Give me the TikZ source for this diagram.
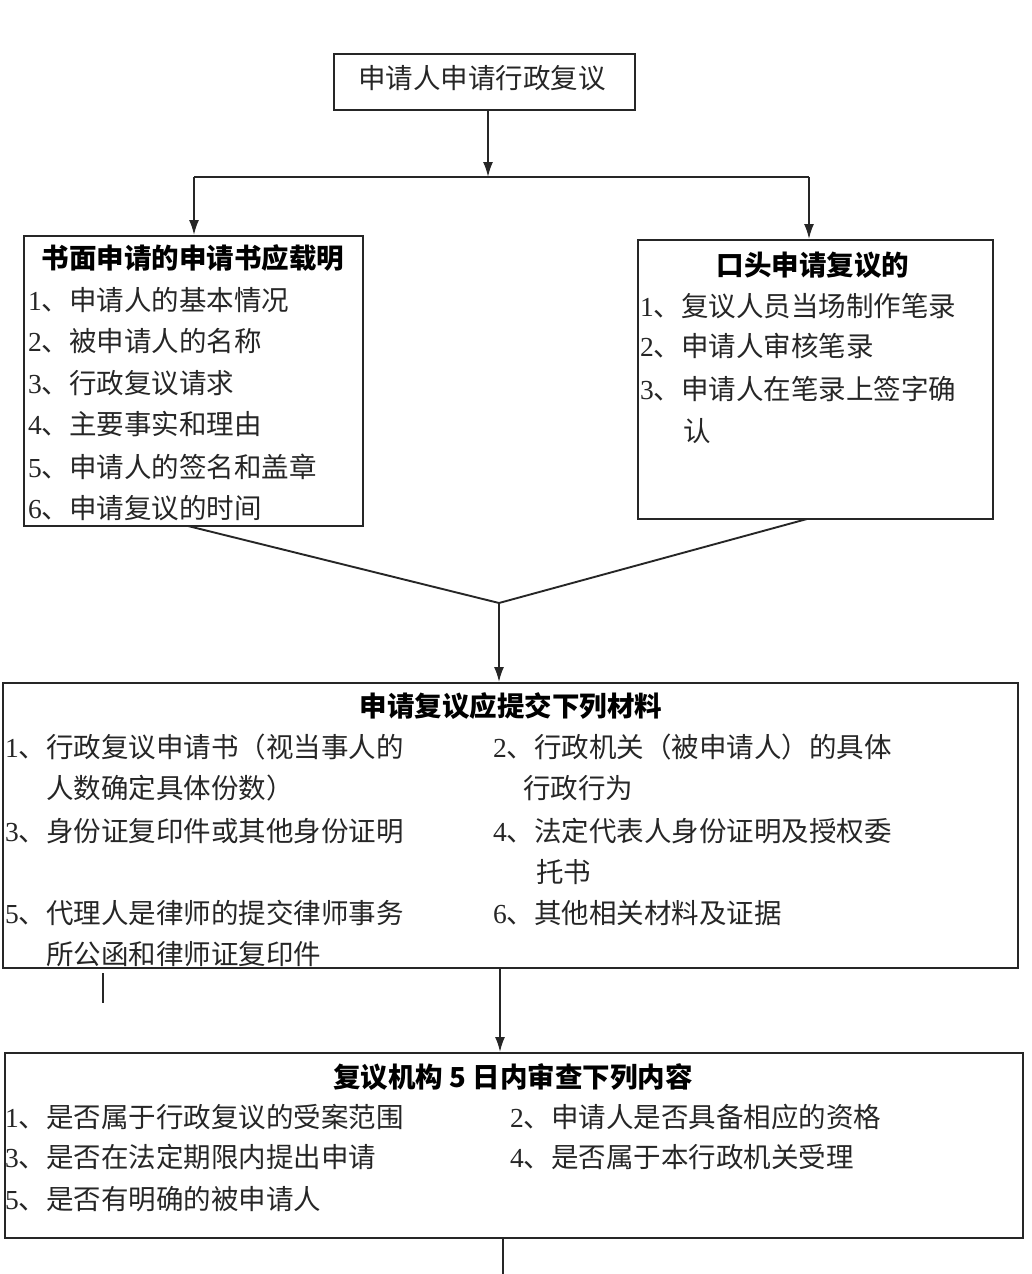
\documentclass[tikz,border=0pt]{standalone}
\usepackage{fontspec}
\setmainfont{Noto Sans CJK SC}
\newfontfamily\tnr{Liberation Serif}
\usetikzlibrary{arrows.meta}
\newcommand\nm[1]{{\tnr #1}、}
\tikzset{
  box/.style={draw=black!85, line width=1.9pt, fill=white, inner sep=0pt},
  txt/.style={anchor=base west, inner sep=0pt, font=\fontsize{27.5}{30}\selectfont, text=black!85},
  ttl/.style={anchor=base, inner sep=0pt, font=\fontsize{27.5}{30}\selectfont\bfseries, text=black},
  ln/.style={draw=black!85, line width=1.9pt},
  arr/.style={ln, -{Latex[length=15pt,width=10pt]}}
}
\begin{document}
\begin{tikzpicture}[x=1pt,y=-1pt]
\useasboundingbox[fill=white] (0,0) rectangle (1032,1274);
% boxes
\node[box, minimum width=301pt, minimum height=56pt] (top) at (484.5,82) {};
\node[box, minimum width=339pt, minimum height=290pt] (lbox) at (193.5,381) {};
\node[box, minimum width=355pt, minimum height=279pt] (rbox) at (815.5,379.5) {};
\node[box, minimum width=1015pt, minimum height=285pt] (mbox) at (510.5,825.5) {};
\node[box, minimum width=1018pt, minimum height=185pt] (bbox) at (514,1145.5) {};
% coordinates
\coordinate (split) at (488,177);
\coordinate (lsplit) at (194,177);
\coordinate (rsplit) at (809,177);
\coordinate (lfoot) at (188,526);
\coordinate (rfoot) at (807,519);
\coordinate (meet) at (499,603);
\coordinate (m2) at (500,968);
\coordinate (stubA) at (103,973);
\coordinate (stubB) at (103,1003);
\coordinate (endpt) at (503,1274);
% connectors
\draw[arr] (top.south -| split) -- (split);
\draw[ln] (lsplit) -- (rsplit);
\draw[arr] (lsplit) -- (lbox.north -| lsplit);
\draw[arr] (rsplit) -- (rbox.north -| rsplit);
\draw[ln] (lfoot) -- (meet) -- (rfoot);
\draw[arr] (meet) -- (mbox.north -| meet);
\draw[arr] (m2) -- (bbox.north -| m2);
\draw[ln] (stubA) -- (stubB);
\draw[ln] (bbox.south -| endpt) -- (endpt);
% top text
\node[anchor=base, inner sep=0pt, font=\fontsize{27.5}{30}\selectfont, text=black!85] (t0) at (482,88) {申请人申请行政复议};
% left box
\node[ttl] (l0) at (193,268) {书面申请的申请书应载明};
\node[txt] (l1) at (28,310) {\nm{1}申请人的基本情况};
\node[txt] (l2) at (28,351) {\nm{2}被申请人的名称};
\node[txt] (l3) at (28,393) {\nm{3}行政复议请求};
\node[txt] (l4) at (28,434) {\nm{4}主要事实和理由};
\node[txt] (l5) at (28,477) {\nm{5}申请人的签名和盖章};
\node[txt] (l6) at (28,518) {\nm{6}申请复议的时间};
% right box
\node[ttl] (r0) at (813,275) {口头申请复议的};
\node[txt] (r1) at (640,316) {\nm{1}复议人员当场制作笔录};
\node[txt] (r2) at (640,356) {\nm{2}申请人审核笔录};
\node[txt] (r3) at (640,399) {\nm{3}申请人在笔录上签字确};
\node[txt] (r3b) at (683,441) {认};
% middle box
\node[ttl] (m0) at (511,716) {申请复议应提交下列材料};
\node[txt] (m1) at (5,757) {\nm{1}行政复议申请书（视当事人的};
\node[txt] (m1b) at (46,798) {人数确定具体份数）};
\node[txt] (m3) at (5,841) {\nm{3}身份证复印件或其他身份证明};
\node[txt] (m5) at (5,923) {\nm{5}代理人是律师的提交律师事务};
\node[txt] (m5b) at (46,964) {所公函和律师证复印件};
\node[txt] (m2t) at (493,757) {\nm{2}行政机关（被申请人）的具体};
\node[txt] (m2b) at (523,798) {行政行为};
\node[txt] (m4) at (493,841) {\nm{4}法定代表人身份证明及授权委};
\node[txt] (m4b) at (536,882) {托书};
\node[txt] (m6) at (493,923) {\nm{6}其他相关材料及证据};
% bottom box
\node[ttl] (b0) at (513,1087) {复议机构 5 日内审查下列内容};
\node[txt] (b1) at (5,1127) {\nm{1}是否属于行政复议的受案范围};
\node[txt] (b3) at (5,1167) {\nm{3}是否在法定期限内提出申请};
\node[txt] (b5) at (5,1209) {\nm{5}是否有明确的被申请人};
\node[txt] (b2) at (510,1127) {\nm{2}申请人是否具备相应的资格};
\node[txt] (b4) at (510,1167) {\nm{4}是否属于本行政机关受理};
\end{tikzpicture}
\end{document}
